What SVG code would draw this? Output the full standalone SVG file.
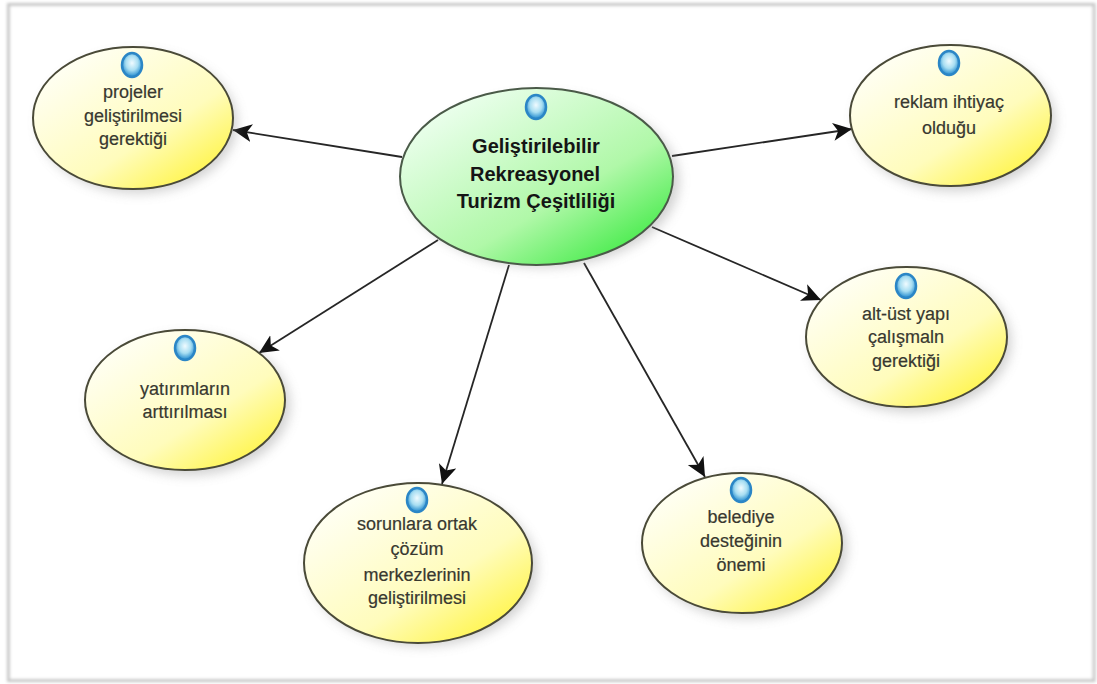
<svg xmlns="http://www.w3.org/2000/svg" width="1097" height="684" viewBox="0 0 1097 684">
<defs>
<linearGradient id="gy" x1="0.12" y1="0.1" x2="0.85" y2="0.9"><stop offset="0" stop-color="#fffff6"/><stop offset="0.65" stop-color="#fffcbc"/><stop offset="1" stop-color="#fff550"/></linearGradient>
<linearGradient id="gg" x1="0.12" y1="0.1" x2="0.85" y2="0.9"><stop offset="0" stop-color="#eefff0"/><stop offset="0.65" stop-color="#b0f8a8"/><stop offset="1" stop-color="#4cec50"/></linearGradient>
<radialGradient id="gb" cx="0.5" cy="0.42" r="0.55"><stop offset="0" stop-color="#f0fbff"/><stop offset="0.55" stop-color="#a8def2"/><stop offset="1" stop-color="#2a8fd0"/></radialGradient>
<filter id="sh" x="-15%" y="-15%" width="135%" height="135%"><feGaussianBlur stdDeviation="6"/></filter>
<filter id="soft" x="-2%" y="-2%" width="104%" height="104%"><feGaussianBlur stdDeviation="1.4"/></filter>
<marker id="arr" markerUnits="userSpaceOnUse" markerWidth="22" markerHeight="20" refX="19" refY="9" orient="auto"><path d="M0 0L19 9L0 18L5 9Z" fill="#111"/></marker>
</defs>
<style>
.n{stroke:#4a4a38;stroke-width:2;fill:url(#gy)}
.c{stroke:#4a5a48;stroke-width:2;fill:url(#gg)}
.s{fill:#8a8a8a;opacity:.4;filter:url(#sh)}
.b{stroke:#2b86c6;stroke-width:2.5;fill:url(#gb)}
.e{stroke:#262626;stroke-width:1.8;fill:none;marker-end:url(#arr)}
text{font-family:"Liberation Sans",Arial,sans-serif;font-size:18px;fill:#383830;stroke:#383830;stroke-width:.2;text-anchor:middle}
.t{font-size:20px;font-weight:700;fill:#151515;stroke:none}
</style>
<rect width="1097" height="684" fill="#fff"/>
<rect x="8.5" y="4.5" width="1085.5" height="676" fill="#fff" stroke="#c6c6c6" stroke-width="3" filter="url(#soft)"/>
<g id="connectors">
<line class="e" x1="402" y1="157" x2="233" y2="130"/>
<line class="e" x1="672" y1="156" x2="852" y2="129"/>
<line class="e" x1="652" y1="227" x2="821" y2="300"/>
<line class="e" x1="438" y1="240" x2="259" y2="353"/>
<line class="e" x1="509" y1="265" x2="442" y2="484"/>
<line class="e" x1="584" y1="263" x2="705" y2="477"/>
</g>
<g id="n-center"><ellipse class="s" cx="543" cy="181" rx="136" ry="86"/><ellipse class="c" cx="536.5" cy="176.5" rx="136.5" ry="88.5"/><ellipse class="b" cx="536" cy="107" rx="10" ry="12"/><text class="t" x="536" y="153">Geliştirilebilir</text><text class="t" x="535" y="181">Rekreasyonel</text><text class="t" x="536" y="208">Turizm Çeşitliliği</text></g>
<g id="n-projeler"><ellipse class="s" cx="138" cy="123" rx="99" ry="70"/><ellipse class="n" cx="133" cy="118" rx="100" ry="71"/><ellipse class="b" cx="132" cy="65" rx="10" ry="12"/><text x="133" y="98">projeler</text><text x="133" y="122">geliştirilmesi</text><text x="133" y="145">gerektiği</text></g>
<g id="n-reklam"><ellipse class="s" cx="955" cy="121" rx="100" ry="70"/><ellipse class="n" cx="950.5" cy="115.5" rx="100.5" ry="70.5"/><ellipse class="b" cx="949" cy="63" rx="10" ry="12"/><text x="949" y="108">reklam ihtiyaç</text><text x="949" y="134">olduğu</text></g>
<g id="n-altust"><ellipse class="s" cx="911" cy="342" rx="100" ry="70"/><ellipse class="n" cx="906.5" cy="337" rx="100.5" ry="70"/><ellipse class="b" cx="906" cy="286" rx="10" ry="12"/><text x="906" y="320">alt-üst yapı</text><text x="906" y="343">çalışmaln</text><text x="906" y="367">gerektiği</text></g>
<g id="n-yatirim"><ellipse class="s" cx="190" cy="405" rx="100" ry="70"/><ellipse class="n" cx="185" cy="400" rx="100" ry="70"/><ellipse class="b" cx="185" cy="348" rx="10" ry="12"/><text x="185" y="395">yatırımların</text><text x="185" y="418">arttırılması</text></g>
<g id="n-sorunlar"><ellipse class="s" cx="423" cy="568" rx="114" ry="78"/><ellipse class="n" cx="418" cy="563" rx="114" ry="80"/><ellipse class="b" cx="417" cy="500" rx="10" ry="12"/><text x="417" y="530">sorunlara ortak</text><text x="417" y="555">çözüm</text><text x="417" y="581">merkezlerinin</text><text x="417" y="604">geliştirilmesi</text></g>
<g id="n-belediye"><ellipse class="s" cx="747" cy="548" rx="100" ry="70"/><ellipse class="n" cx="742" cy="543" rx="100" ry="70"/><ellipse class="b" cx="741" cy="490" rx="10" ry="12"/><text x="741" y="523">belediye</text><text x="741" y="547">desteğinin</text><text x="741" y="571">önemi</text></g>
</svg>
